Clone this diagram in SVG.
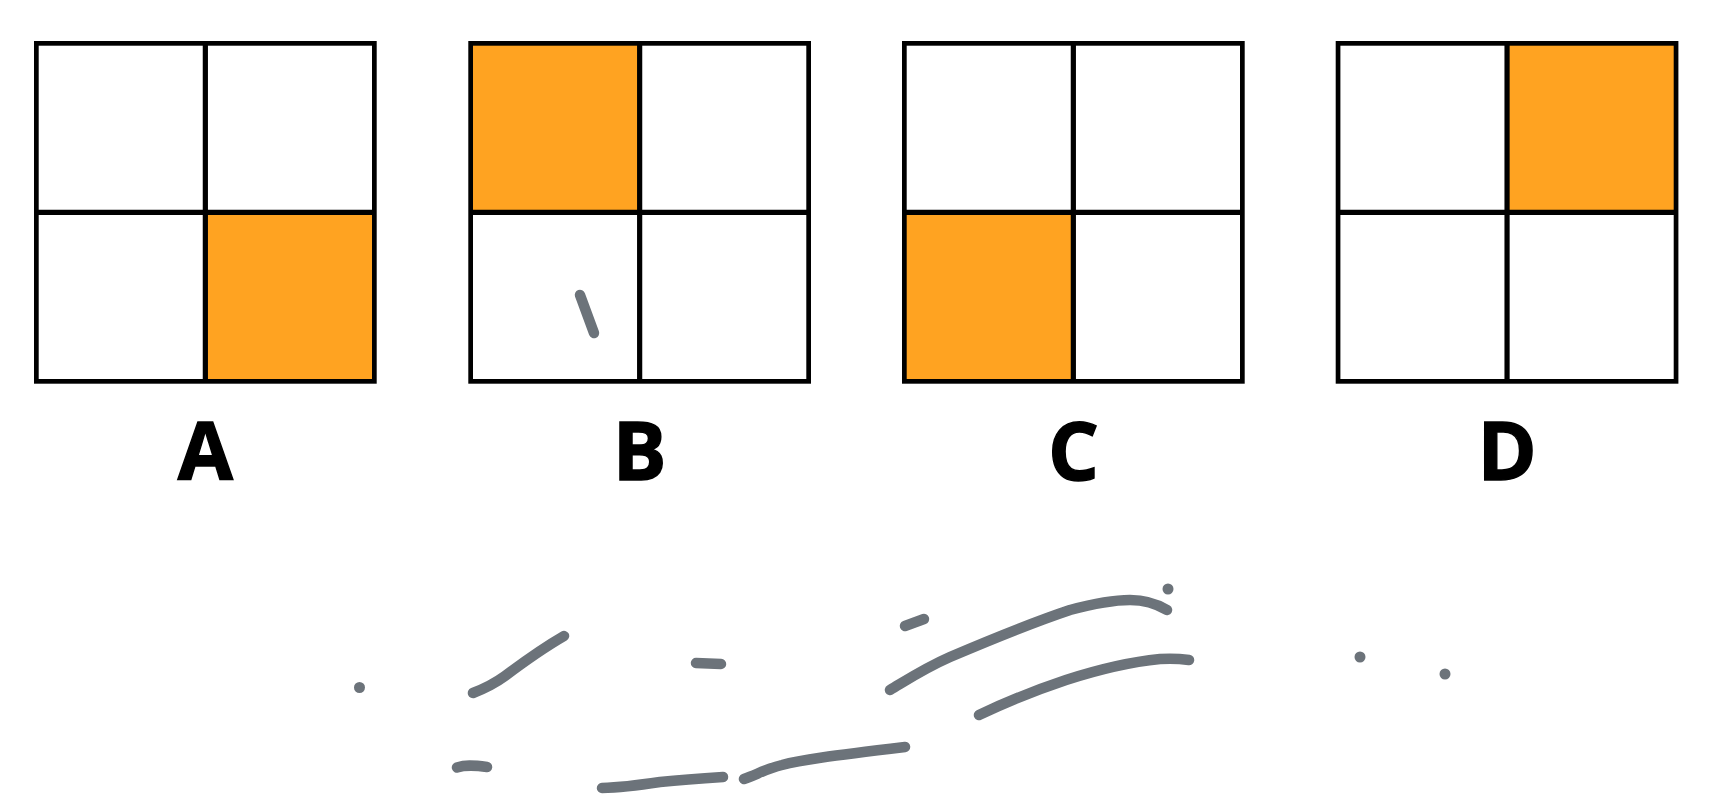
<svg xmlns="http://www.w3.org/2000/svg" width="1713" height="800" viewBox="0 0 1713 800">
<style>
.frame{fill:none;stroke:#000;stroke-width:4.7}
.mid{stroke:#000;stroke-width:5.2}
.hit{fill:#FFA321}
.lbl{font-family:"Open Sans","Noto Sans","DejaVu Sans",sans-serif;font-weight:bold;font-size:80px;fill:#000;stroke:#000;stroke-width:1.4;text-anchor:middle}
.ink{fill:none;stroke:#6C737A;stroke-width:10.5;stroke-linecap:round;stroke-linejoin:round}
.dot{fill:#6C737A}
</style>
<rect width="1713" height="800" fill="#fff"/>
<g id="option-A">
<rect class="hit" x="205.4" y="212.4" width="169" height="169"/>
<rect class="frame" x="36.35" y="43.35" width="338" height="338"/>
<line class="mid" x1="36.35" y1="212.35" x2="374.35" y2="212.35"/>
<line class="mid" x1="205.35" y1="43.35" x2="205.35" y2="381.35"/>
<text class="lbl" x="205.4" y="480">A</text>
</g>
<g id="option-B">
<rect class="hit" x="470.6" y="43.4" width="169" height="169"/>
<rect class="frame" x="470.65" y="43.35" width="338" height="338"/>
<line class="mid" x1="470.65" y1="212.35" x2="808.65" y2="212.35"/>
<line class="mid" x1="639.65" y1="43.35" x2="639.65" y2="381.35"/>
<text class="lbl" x="639.7" y="480">B</text>
</g>
<g id="option-C">
<rect class="hit" x="904.3" y="212.4" width="169" height="169"/>
<rect class="frame" x="904.35" y="43.35" width="338" height="338"/>
<line class="mid" x1="904.35" y1="212.35" x2="1242.35" y2="212.35"/>
<line class="mid" x1="1073.35" y1="43.35" x2="1073.35" y2="381.35"/>
<text class="lbl" x="1073.4" y="480">C</text>
</g>
<g id="option-D">
<rect class="hit" x="1507" y="43.4" width="169" height="169"/>
<rect class="frame" x="1338.05" y="43.35" width="338" height="338"/>
<line class="mid" x1="1338.05" y1="212.35" x2="1676.05" y2="212.35"/>
<line class="mid" x1="1507.05" y1="43.35" x2="1507.05" y2="381.35"/>
<text class="lbl" x="1507" y="480">D</text>
</g>
<g id="strokes">
<path class="ink" d="M580 295 L594 333"/>
<circle class="dot" cx="359.5" cy="687.5" r="5.5"/>
<path class="ink" d="M473 693 C486 688 494 684 505 676 C525 661 545 647 564 636"/>
<path class="ink" d="M696 663 L721 664"/>
<path class="ink" d="M457 767.5 C465 765 472 765 487 767"/>
<path class="ink" d="M602 788 C620 787.5 640 785 660 782 C680 780 700 778.5 723 777"/>
<path class="ink" d="M744 779 C758 774 766 769 782 765 C800 760 830 756 905 747"/>
<path class="ink" d="M905 626 L924 619"/>
<path class="ink" d="M890 690 C910 678 925 668 950 657 C990 640 1040 620 1070 610 C1100 602 1115 600 1130 600 C1145 600 1157 604 1167 610"/>
<circle class="dot" cx="1168" cy="589" r="5.5"/>
<path class="ink" d="M979 715 C1000 705 1030 692 1066 680 C1100 669 1130 662 1160 659 C1175 658 1182 659 1189 660"/>
<circle class="dot" cx="1360" cy="657" r="5.5"/>
<circle class="dot" cx="1445" cy="674" r="5.5"/>
</g>
</svg>
